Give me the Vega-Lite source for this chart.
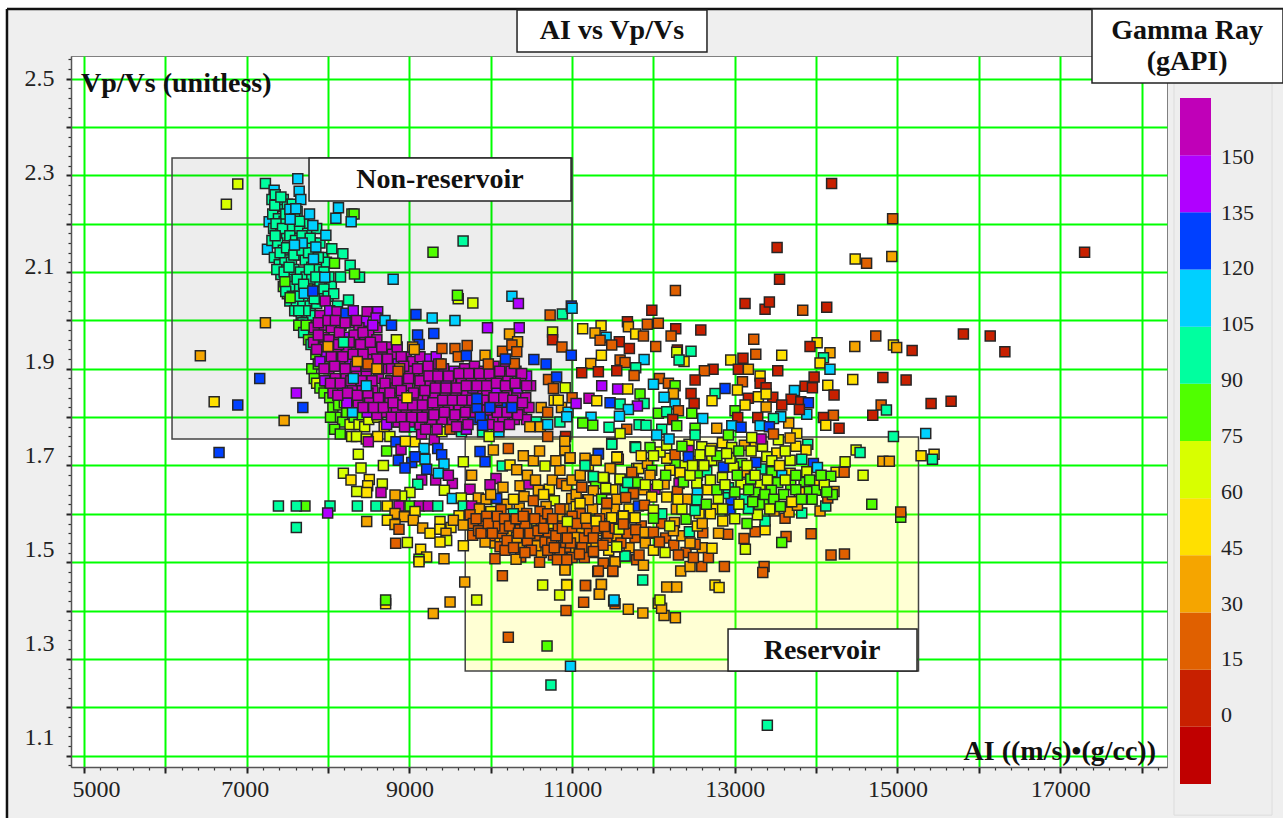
{"$schema":"https://vega.github.io/schema/vega-lite/v6.json","width":1096,"height":711,"autosize":{"type":"none"},"padding":{"left":71,"top":56,"right":116,"bottom":51},"background":"#efefef","view":{"fill":"white","stroke":"#808080"},"config":{"font":"Liberation Serif"},
"resolve":{"axis":{"x":"independent","y":"independent"}},
"layer":[
{"data":{"values":[{"part":"left margin"}]},"mark":{"type":"rect","fill":"white","clip":false},"encoding":{"x":{"datum":3000,"type":"quantitative","scale":{"domain":[4840,18313],"nice":false,"zero":false},"axis":null},"x2":{"datum":4053},"y":{"datum":0.8,"type":"quantitative","scale":{"domain":[1.0766,2.5467],"nice":false,"zero":false},"axis":null},"y2":{"datum":2.9}}},
{"data":{"values":[{"part":"top margin"}]},"mark":{"type":"rect","fill":"white","clip":false},"encoding":{"x":{"datum":4053,"type":"quantitative","scale":{"domain":[4840,18313],"nice":false,"zero":false},"axis":null},"x2":{"datum":20000},"y":{"datum":2.6437,"type":"quantitative","scale":{"domain":[1.0766,2.5467],"nice":false,"zero":false},"axis":null},"y2":{"datum":2.9}}},
{"data":{"values":[{"part":"frame left"}]},"mark":{"type":"rule","color":"#111111","strokeWidth":2.5,"clip":false},"encoding":{"x":{"datum":4053,"type":"quantitative","scale":{"domain":[4840,18313],"nice":false,"zero":false},"axis":null},"y":{"datum":0.85,"type":"quantitative","scale":{"domain":[1.0766,2.5467],"nice":false,"zero":false},"axis":null},"y2":{"datum":2.6437}}},
{"data":{"values":[{"part":"frame top"}]},"mark":{"type":"rule","color":"#111111","strokeWidth":2.5,"clip":false},"encoding":{"x":{"datum":4053,"type":"quantitative","scale":{"domain":[4840,18313],"nice":false,"zero":false},"axis":null},"x2":{"datum":20000},"y":{"datum":2.6437,"type":"quantitative","scale":{"domain":[1.0766,2.5467],"nice":false,"zero":false},"axis":null}}},
{"data":{"values":[{"x":19000}]},"mark":{"type":"tick","opacity":0},"encoding":{"x":{"field":"x","type":"quantitative","scale":{"domain":[4840,18313],"nice":false,"zero":false},"axis":{"orient":"bottom","title":null,"values":[5000,5200,5400,5600,5800,6000,6200,6400,6600,6800,7000,7200,7400,7600,7800,8000,8200,8400,8600,8800,9000,9200,9400,9600,9800,10000,10200,10400,10600,10800,11000,11200,11400,11600,11800,12000,12200,12400,12600,12800,13000,13200,13400,13600,13800,14000,14200,14400,14600,14800,15000,15200,15400,15600,15800,16000,16200,16400,16600,16800,17000,17200,17400,17600,17800,18000,18200],"labels":false,"grid":false,"domain":false,"tickSize":3,"tickColor":"#333333","tickWidth":1.2}},"y":{"datum":3,"type":"quantitative","scale":{"domain":[1.0766,2.5467],"nice":false,"zero":false},"axis":{"orient":"left","title":null,"values":[1.08,1.12,1.14,1.16,1.18,1.22,1.24,1.26,1.28,1.32,1.34,1.36,1.38,1.42,1.44,1.46,1.48,1.52,1.54,1.56,1.58,1.62,1.64,1.66,1.68,1.72,1.74,1.76,1.78,1.82,1.84,1.86,1.88,1.92,1.94,1.96,1.98,2.02,2.04,2.06,2.08,2.12,2.14,2.16,2.18,2.22,2.24,2.26,2.28,2.32,2.34,2.36,2.38,2.42,2.44,2.46,2.48,2.52,2.54],"labels":false,"grid":false,"domain":false,"tickSize":3,"tickColor":"#333333","tickWidth":1.2}}}},
{"data":{"values":[{"region":"Non-reservoir","x1":6082,"x2":11000,"y1":1.755,"y2":2.336}]},"mark":{"type":"rect","fill":"#000000","fillOpacity":0.07,"stroke":"#444444","strokeWidth":1.5},"encoding":{"x":{"field":"x1","type":"quantitative","scale":{"domain":[4840,18313],"nice":false,"zero":false},"axis":{"orient":"bottom","title":null,"values":[5000,6000,7000,8000,9000,10000,11000,12000,13000,14000,15000,16000,17000,18000],"gridColor":"#00ff00","gridWidth":2,"gridOpacity":1,"grid":true,"domainColor":"#555555","domainWidth":1.5,"tickColor":"#222222","tickWidth":2,"tickSize":6,"labelFontSize":24,"labelFont":"Liberation Serif","labelColor":"#222222","labelPadding":4,"labelOverlap":false,"labelFlush":false,"labelExpr":"datum.value % 2000 == 1000 ? format(datum.value,'d') : ''","labelOffset":{"expr":"datum.value == 5000 ? 12 : datum.value == 7000 ? -2 : 0"}}},"x2":{"field":"x2"},"y":{"field":"y1","type":"quantitative","scale":{"domain":[1.0766,2.5467],"nice":false,"zero":false},"axis":{"orient":"left","title":null,"values":[1.1,1.2,1.3,1.4,1.5,1.6,1.7,1.8,1.9,2.0,2.1,2.2,2.3,2.4,2.5],"gridColor":"#00ff00","gridWidth":2,"gridOpacity":1,"grid":true,"domainColor":"#555555","domainWidth":1.5,"tickColor":"#222222","tickWidth":2,"tickSize":5,"labelFontSize":24,"labelFont":"Liberation Serif","labelColor":"#222222","labelPadding":12,"labelOverlap":false,"labelExpr":"round(datum.value*10) % 2 == 1 ? format(datum.value,'.1f') : ''","labelOffset":{"expr":"(datum.value-2.5)*12.9"}}},"y2":{"field":"y2"}}},
{"data":{"values":[{"region":"Reservoir","x1":9686,"x2":15258,"y1":1.275,"y2":1.759}]},"mark":{"type":"rect","fill":"#ffff00","fillOpacity":0.17,"stroke":"#444444","strokeWidth":1.5},"encoding":{"x":{"field":"x1","type":"quantitative","scale":{"domain":[4840,18313],"nice":false,"zero":false},"axis":null},"x2":{"field":"x2"},"y":{"field":"y1","type":"quantitative","scale":{"domain":[1.0766,2.5467],"nice":false,"zero":false},"axis":null},"y2":{"field":"y2"}}},
{"data":{"values":[{"x1":18399,"x2":19604,"y1":0.977,"y2":2.491}]},"mark":{"type":"rect","fill":"#eeeeee","stroke":"#dddddd","clip":false},"encoding":{"x":{"field":"x1","type":"quantitative","scale":{"domain":[4840,18313],"nice":false,"zero":false},"axis":null},"x2":{"field":"x2"},"y":{"field":"y1","type":"quantitative","scale":{"domain":[1.0766,2.5467],"nice":false,"zero":false},"axis":null},"y2":{"field":"y2"}}},
{"data":{"values":[
{"x":7850,"y":1.93,"g":75},{"x":7800,"y":1.9,"g":75},{"x":7830,"y":1.88,"g":80},{"x":7880,"y":1.91,"g":80},{"x":7860,"y":1.87,"g":60},{"x":7900,"y":1.86,"g":80},{"x":7950,"y":1.85,"g":75},{"x":7980,"y":1.875,"g":85},{"x":8020,"y":1.84,"g":80},{"x":8060,"y":1.82,"g":80},{"x":8100,"y":1.8,"g":75},{"x":8030,"y":1.8,"g":80},{"x":8130,"y":1.825,"g":75},{"x":8180,"y":1.79,"g":80},{"x":8230,"y":1.81,"g":85},{"x":8270,"y":1.785,"g":70},{"x":8320,"y":1.8,"g":75},{"x":8380,"y":1.785,"g":60},{"x":8420,"y":1.805,"g":80},{"x":8450,"y":1.78,"g":70},{"x":8500,"y":1.795,"g":65},{"x":8540,"y":1.82,"g":60},{"x":8080,"y":1.775,"g":80},{"x":8150,"y":1.765,"g":75},{"x":8290,"y":1.76,"g":65},{"x":8200,"y":1.83,"g":75},{"x":8350,"y":1.76,"g":60},{"x":8470,"y":1.755,"g":65},{"x":8610,"y":1.8,"g":60},{"x":8690,"y":1.78,"g":55},{"x":8610,"y":1.76,"g":50},{"x":8760,"y":1.76,"g":60},
{"x":8495,"y":1.749,"g":155},{"x":8372,"y":1.723,"g":60},{"x":8720,"y":1.73,"g":75},{"x":8835,"y":1.749,"g":125},{"x":8897,"y":1.733,"g":155},{"x":9069,"y":1.749,"g":55},{"x":9180,"y":1.735,"g":105},{"x":9306,"y":1.753,"g":155},{"x":9348,"y":1.735,"g":125},{"x":9397,"y":1.722,"g":125},{"x":8864,"y":1.711,"g":125},{"x":9028,"y":1.706,"g":125},{"x":9069,"y":1.718,"g":125},{"x":9192,"y":1.713,"g":105},{"x":8946,"y":1.695,"g":125},{"x":9425,"y":1.703,"g":105},{"x":9212,"y":1.692,"g":125},{"x":8680,"y":1.7,"g":60},{"x":8405,"y":1.695,"g":60},{"x":8188,"y":1.684,"g":60},{"x":8282,"y":1.67,"g":50},{"x":8507,"y":1.671,"g":50},{"x":8487,"y":1.658,"g":55},{"x":8667,"y":1.662,"g":60},{"x":8352,"y":1.646,"g":60},{"x":8475,"y":1.644,"g":50},{"x":8651,"y":1.644,"g":155},{"x":9151,"y":1.67,"g":155},{"x":9323,"y":1.67,"g":155},{"x":9528,"y":1.663,"g":155},{"x":9356,"y":1.684,"g":105},{"x":9479,"y":1.68,"g":155},{"x":9102,"y":1.661,"g":95},{"x":9430,"y":1.649,"g":60},{"x":9007,"y":1.644,"g":60},{"x":8905,"y":1.637,"g":60},{"x":8823,"y":1.639,"g":30},{"x":9663,"y":1.708,"g":60},{"x":9765,"y":1.68,"g":40},{"x":9745,"y":1.651,"g":150},{"x":9528,"y":1.632,"g":105},{"x":9638,"y":1.633,"g":60},{"x":9847,"y":1.633,"g":35},{"x":10073,"y":1.632,"g":125},{"x":9942,"y":1.63,"g":35},{"x":8872,"y":1.616,"g":155},{"x":9007,"y":1.616,"g":75},{"x":9122,"y":1.616,"g":155},{"x":9233,"y":1.616,"g":155},{"x":9348,"y":1.616,"g":95},{"x":8589,"y":1.616,"g":95},{"x":8360,"y":1.616,"g":95},{"x":8024,"y":1.616,"g":95},{"x":7716,"y":1.616,"g":75},{"x":7995,"y":1.602,"g":145},{"x":9663,"y":1.616,"g":95},{"x":9765,"y":1.616,"g":155},{"x":8729,"y":1.616,"g":55},{"x":8823,"y":1.601,"g":30},{"x":8938,"y":1.594,"g":35},{"x":9069,"y":1.605,"g":55},{"x":8729,"y":1.587,"g":50},{"x":8475,"y":1.584,"g":30},{"x":8823,"y":1.578,"g":35},{"x":8872,"y":1.568,"g":25},{"x":9048,"y":1.587,"g":35},{"x":9163,"y":1.571,"g":30},{"x":9253,"y":1.56,"g":50},{"x":9376,"y":1.584,"g":50},{"x":9376,"y":1.568,"g":50},{"x":9511,"y":1.572,"g":50},{"x":9610,"y":1.596,"g":50},{"x":9540,"y":1.587,"g":35},{"x":9663,"y":1.577,"g":35},{"x":9450,"y":1.56,"g":40},{"x":9458,"y":1.545,"g":60},{"x":9376,"y":1.542,"g":50},{"x":8975,"y":1.541,"g":60},{"x":8831,"y":1.539,"g":15},{"x":9138,"y":1.527,"g":50},{"x":9212,"y":1.511,"g":50},{"x":9118,"y":1.506,"g":75},{"x":9118,"y":1.501,"g":50},{"x":9425,"y":1.507,"g":30},{"x":9663,"y":1.534,"g":50},{"x":9680,"y":1.459,"g":30},
{"x":9868,"y":1.729,"g":125},{"x":9930,"y":1.708,"g":125},{"x":10032,"y":1.732,"g":35},{"x":10216,"y":1.735,"g":15},{"x":10142,"y":1.699,"g":95},{"x":10237,"y":1.701,"g":50},{"x":10319,"y":1.691,"g":35},{"x":10524,"y":1.71,"g":30},{"x":10667,"y":1.699,"g":60},{"x":10913,"y":1.731,"g":35},{"x":10974,"y":1.715,"g":35},{"x":11159,"y":1.715,"g":35},{"x":11167,"y":1.699,"g":95},{"x":11294,"y":1.711,"g":35},{"x":11323,"y":1.725,"g":125},{"x":11474,"y":1.694,"g":35},{"x":11556,"y":1.718,"g":50},{"x":11568,"y":1.713,"g":15},{"x":11487,"y":1.746,"g":95},{"x":11773,"y":1.739,"g":95},{"x":11794,"y":1.694,"g":50},{"x":11753,"y":1.685,"g":15},{"x":10065,"y":1.673,"g":150},{"x":9991,"y":1.66,"g":150},{"x":10360,"y":1.658,"g":30},{"x":10470,"y":1.662,"g":155},{"x":10585,"y":1.649,"g":30},{"x":10720,"y":1.651,"g":50},{"x":10757,"y":1.67,"g":30},{"x":10872,"y":1.663,"g":15},{"x":10933,"y":1.658,"g":35},{"x":11118,"y":1.655,"g":15},{"x":11261,"y":1.675,"g":95},{"x":11396,"y":1.675,"g":60},{"x":11413,"y":1.651,"g":60},{"x":11290,"y":1.663,"g":75},{"x":11590,"y":1.671,"g":60},{"x":11683,"y":1.665,"g":95},{"x":11785,"y":1.665,"g":95},{"x":11753,"y":1.641,"g":15},{"x":11650,"y":1.648,"g":95},{"x":11261,"y":1.648,"g":35},{"x":10409,"y":1.636,"g":35},{"x":10524,"y":1.627,"g":15},{"x":10782,"y":1.627,"g":60},{"x":10995,"y":1.632,"g":35},{"x":11192,"y":1.629,"g":35},{"x":11363,"y":1.63,"g":75},{"x":11425,"y":1.622,"g":15},
{"x":10200,"y":1.62,"g":35},{"x":10350,"y":1.612,"g":30},{"x":10680,"y":1.615,"g":35},{"x":10900,"y":1.61,"g":30},{"x":11050,"y":1.615,"g":50},{"x":11250,"y":1.61,"g":30},{"x":11520,"y":1.612,"g":30},{"x":11700,"y":1.61,"g":50},{"x":10000,"y":1.605,"g":50},{"x":9860,"y":1.61,"g":35},{"x":10450,"y":1.588,"g":50},{"x":10650,"y":1.6,"g":30},{"x":10850,"y":1.59,"g":35},{"x":11080,"y":1.595,"g":35},{"x":11220,"y":1.585,"g":30},{"x":11420,"y":1.6,"g":30},{"x":9960,"y":1.57,"g":50},{"x":10250,"y":1.565,"g":35},{"x":10500,"y":1.57,"g":50},{"x":10780,"y":1.57,"g":30},{"x":11100,"y":1.57,"g":40},{"x":11340,"y":1.565,"g":30},{"x":11550,"y":1.555,"g":30},{"x":10050,"y":1.54,"g":35},{"x":10380,"y":1.53,"g":35},{"x":10620,"y":1.52,"g":30},{"x":10990,"y":1.525,"g":35},{"x":11200,"y":1.53,"g":30},{"x":11450,"y":1.525,"g":50},{"x":11700,"y":1.53,"g":30},{"x":11900,"y":1.54,"g":35},{"x":12000,"y":1.525,"g":50},
{"x":10126,"y":1.609,"g":15},{"x":10278,"y":1.6,"g":95},{"x":9745,"y":1.598,"g":15},{"x":9900,"y":1.584,"g":15},{"x":10114,"y":1.587,"g":15},{"x":10278,"y":1.584,"g":15},{"x":10442,"y":1.601,"g":15},{"x":10606,"y":1.605,"g":15},{"x":10565,"y":1.582,"g":55},{"x":10729,"y":1.58,"g":55},{"x":10851,"y":1.61,"g":15},{"x":10946,"y":1.584,"g":60},{"x":11167,"y":1.591,"g":30},{"x":11290,"y":1.584,"g":50},{"x":11487,"y":1.592,"g":50},{"x":11630,"y":1.596,"g":50},{"x":11773,"y":1.592,"g":60},{"x":11396,"y":1.574,"g":15},{"x":11638,"y":1.579,"g":15},{"x":9786,"y":1.58,"g":15},{"x":9778,"y":1.556,"g":15},{"x":9991,"y":1.555,"g":15},{"x":10134,"y":1.56,"g":25},{"x":10360,"y":1.567,"g":15},{"x":10565,"y":1.556,"g":15},{"x":10708,"y":1.556,"g":15},{"x":10892,"y":1.551,"g":15},{"x":10995,"y":1.567,"g":15},{"x":11036,"y":1.551,"g":30},{"x":11294,"y":1.539,"g":30},{"x":11425,"y":1.551,"g":15},{"x":11581,"y":1.568,"g":55},{"x":11548,"y":1.532,"g":60},{"x":11773,"y":1.551,"g":15},{"x":10319,"y":1.551,"g":30},{"x":9930,"y":1.542,"g":30},{"x":10114,"y":1.532,"g":15},{"x":10175,"y":1.525,"g":15},{"x":10474,"y":1.524,"g":15},{"x":10368,"y":1.511,"g":15},{"x":10556,"y":1.534,"g":30},{"x":10667,"y":1.542,"g":15},{"x":10921,"y":1.531,"g":15},{"x":11089,"y":1.516,"g":15},{"x":11261,"y":1.52,"g":15},{"x":10933,"y":1.506,"g":15},{"x":10770,"y":1.515,"g":15},{"x":10052,"y":1.507,"g":15},{"x":10311,"y":1.506,"g":30},{"x":11650,"y":1.513,"g":95},{"x":11384,"y":1.498,"g":15},{"x":11528,"y":1.501,"g":30},{"x":11315,"y":1.481,"g":15},{"x":11499,"y":1.481,"g":15},{"x":10913,"y":1.485,"g":30},{"x":11794,"y":1.505,"g":15},{"x":10143,"y":1.472,"g":25},{"x":10638,"y":1.453,"g":60},{"x":10933,"y":1.454,"g":50},{"x":11167,"y":1.452,"g":15},{"x":11360,"y":1.454,"g":30},{"x":11335,"y":1.434,"g":25},{"x":10847,"y":1.432,"g":60},{"x":11142,"y":1.417,"g":15},{"x":11528,"y":1.414,"g":15},{"x":11511,"y":1.42,"g":105},{"x":11691,"y":1.403,"g":40},{"x":10925,"y":1.4,"g":25},{"x":9827,"y":1.422,"g":60},{"x":9500,"y":1.418,"g":30},{"x":9294,"y":1.394,"g":35},{"x":8708,"y":1.414,"g":50},{"x":8708,"y":1.422,"g":75},{"x":10216,"y":1.345,"g":25},{"x":10692,"y":1.327,"g":75},{"x":10740,"y":1.246,"g":95},{"x":10980,"y":1.285,"g":105},{"x":13400,"y":1.163,"g":100},{"x":12270,"y":1.385,"g":30},{"x":12130,"y":1.39,"g":40},{"x":12060,"y":1.415,"g":50},{"x":11870,"y":1.395,"g":35},{"x":12100,"y":1.405,"g":30},
{"x":10150,"y":1.57,"g":15},{"x":10420,"y":1.575,"g":15},{"x":10620,"y":1.585,"g":15},{"x":10830,"y":1.575,"g":15},{"x":10200,"y":1.545,"g":15},{"x":10450,"y":1.545,"g":15},{"x":10750,"y":1.54,"g":15},{"x":10600,"y":1.5,"g":15},{"x":10980,"y":1.54,"g":15},{"x":11150,"y":1.55,"g":15},{"x":11210,"y":1.565,"g":15},{"x":9850,"y":1.565,"g":15},{"x":10050,"y":1.575,"g":15},{"x":10700,"y":1.6,"g":15},{"x":11100,"y":1.6,"g":15},{"x":11000,"y":1.595,"g":15},{"x":9950,"y":1.595,"g":15},{"x":10500,"y":1.525,"g":15},{"x":10850,"y":1.52,"g":15},{"x":11300,"y":1.57,"g":15},{"x":11480,"y":1.575,"g":15},{"x":11600,"y":1.54,"g":15},{"x":11850,"y":1.575,"g":15},{"x":11950,"y":1.56,"g":15},
{"x":9820,"y":1.59,"g":15},{"x":9880,"y":1.56,"g":15},{"x":9970,"y":1.58,"g":15},{"x":10020,"y":1.56,"g":15},{"x":10080,"y":1.595,"g":15},{"x":10170,"y":1.59,"g":15},{"x":10230,"y":1.575,"g":15},{"x":10310,"y":1.59,"g":15},{"x":10340,"y":1.56,"g":15},{"x":10400,"y":1.595,"g":15},{"x":10480,"y":1.56,"g":15},{"x":10540,"y":1.59,"g":15},{"x":10580,"y":1.565,"g":15},{"x":10650,"y":1.57,"g":15},{"x":10760,"y":1.59,"g":15},{"x":10800,"y":1.555,"g":15},{"x":10880,"y":1.57,"g":15},{"x":10940,"y":1.55,"g":15},{"x":11060,"y":1.58,"g":15},{"x":11120,"y":1.53,"g":15},{"x":11180,"y":1.58,"g":15},{"x":11260,"y":1.55,"g":15},{"x":11340,"y":1.59,"g":15},{"x":11380,"y":1.535,"g":15},{"x":11440,"y":1.56,"g":15},{"x":11530,"y":1.57,"g":15},{"x":10280,"y":1.53,"g":15},{"x":10420,"y":1.52,"g":15},{"x":10700,"y":1.525,"g":15},{"x":10780,"y":1.53,"g":15},{"x":10820,"y":1.505,"g":15},{"x":11000,"y":1.51,"g":15},{"x":11150,"y":1.51,"g":15},{"x":11680,"y":1.56,"g":15},{"x":12150,"y":1.55,"g":15},{"x":12250,"y":1.535,"g":15},{"x":12400,"y":1.52,"g":15},{"x":12600,"y":1.53,"g":30},{"x":12100,"y":1.58,"g":15},{"x":12350,"y":1.555,"g":30},
{"x":10000,"y":1.64,"g":35},{"x":10150,"y":1.655,"g":30},{"x":10280,"y":1.63,"g":50},{"x":10450,"y":1.68,"g":30},{"x":10550,"y":1.67,"g":35},{"x":10650,"y":1.64,"g":50},{"x":10850,"y":1.69,"g":30},{"x":11000,"y":1.67,"g":40},{"x":11050,"y":1.64,"g":30},{"x":10800,"y":1.71,"g":35},{"x":10400,"y":1.72,"g":30},{"x":10600,"y":1.73,"g":35},{"x":11100,"y":1.68,"g":30},{"x":11200,"y":1.7,"g":50},{"x":11500,"y":1.65,"g":55},{"x":11550,"y":1.63,"g":35},{"x":11880,"y":1.65,"g":30},
{"x":11487,"y":1.744,"g":95},{"x":11782,"y":1.737,"g":95},{"x":11323,"y":1.724,"g":125},{"x":10913,"y":1.732,"g":30},{"x":10975,"y":1.716,"g":30},{"x":11549,"y":1.717,"g":55},{"x":11159,"y":1.7,"g":95},{"x":11295,"y":1.711,"g":30},{"x":11467,"y":1.694,"g":30},{"x":11819,"y":1.694,"g":50},{"x":11926,"y":1.704,"g":30},{"x":11979,"y":1.69,"g":75},{"x":11733,"y":1.686,"g":20},{"x":11958,"y":1.68,"g":30},{"x":11262,"y":1.677,"g":90},{"x":11385,"y":1.675,"g":60},{"x":11413,"y":1.653,"g":60},{"x":11590,"y":1.672,"g":60},{"x":11684,"y":1.665,"g":95},{"x":11807,"y":1.665,"g":75},{"x":12020,"y":1.651,"g":150},{"x":12131,"y":1.662,"g":30},{"x":12315,"y":1.663,"g":150},{"x":12295,"y":1.646,"g":20},{"x":11754,"y":1.642,"g":20},{"x":11659,"y":1.634,"g":15},{"x":11979,"y":1.635,"g":55},{"x":12163,"y":1.635,"g":50},{"x":11118,"y":1.655,"g":15},{"x":11200,"y":1.629,"g":30},{"x":11426,"y":1.622,"g":15},{"x":11098,"y":1.622,"g":50},{"x":11815,"y":1.616,"g":125},{"x":11889,"y":1.618,"g":15},{"x":12102,"y":1.6,"g":95},{"x":12282,"y":1.61,"g":30},{"x":12000,"y":1.608,"g":60},{"x":12000,"y":1.591,"g":75},{"x":11774,"y":1.592,"g":55},{"x":11630,"y":1.595,"g":50},{"x":11487,"y":1.592,"g":50},{"x":11295,"y":1.585,"g":50},{"x":11167,"y":1.591,"g":30},{"x":10942,"y":1.584,"g":60},{"x":11397,"y":1.574,"g":15},{"x":11577,"y":1.568,"g":60},{"x":11630,"y":1.579,"g":15},{"x":11782,"y":1.567,"g":15},{"x":11897,"y":1.562,"g":30},{"x":12000,"y":1.562,"g":15},{"x":12258,"y":1.582,"g":30},{"x":12245,"y":1.565,"g":30},{"x":12401,"y":1.589,"g":75},{"x":12442,"y":1.563,"g":95},{"x":12606,"y":1.561,"g":15},{"x":12540,"y":1.575,"g":50},{"x":12745,"y":1.61,"g":50},{"x":12852,"y":1.585,"g":50},{"x":12561,"y":1.601,"g":50},{"x":12512,"y":1.607,"g":95},{"x":12913,"y":1.558,"g":15},{"x":13372,"y":1.567,"g":55},{"x":13250,"y":1.563,"g":15},{"x":13114,"y":1.549,"g":25},{"x":13630,"y":1.553,"g":15},{"x":13577,"y":1.541,"g":75},{"x":13938,"y":1.559,"g":15},{"x":13130,"y":1.527,"g":60},{"x":13372,"y":1.585,"g":95},{"x":13618,"y":1.591,"g":15},{"x":13278,"y":1.598,"g":60},{"x":13483,"y":1.606,"g":30},{"x":13667,"y":1.604,"g":30},{"x":13823,"y":1.602,"g":95},{"x":13770,"y":1.618,"g":30},{"x":14048,"y":1.606,"g":30},{"x":14118,"y":1.616,"g":95},{"x":14143,"y":1.633,"g":15},{"x":14220,"y":1.646,"g":30},{"x":14684,"y":1.62,"g":75},{"x":14577,"y":1.68,"g":60},{"x":14356,"y":1.708,"g":60},{"x":14245,"y":1.686,"g":55},{"x":14344,"y":1.686,"g":15},{"x":14180,"y":1.678,"g":75},{"x":14491,"y":1.732,"g":60},{"x":14540,"y":1.727,"g":95},{"x":14820,"y":1.709,"g":30},{"x":14900,"y":1.709,"g":30},{"x":15040,"y":1.593,"g":75},{"x":15040,"y":1.604,"g":15},{"x":14183,"y":1.515,"g":15},{"x":14348,"y":1.517,"g":15},{"x":13360,"y":1.491,"g":15},{"x":13344,"y":1.479,"g":15},{"x":12872,"y":1.491,"g":15},{"x":12335,"y":1.482,"g":30},{"x":12450,"y":1.491,"g":30},{"x":12594,"y":1.491,"g":15},{"x":12676,"y":1.51,"g":15},{"x":12491,"y":1.51,"g":15},{"x":12307,"y":1.515,"g":15},{"x":12720,"y":1.529,"g":50},{"x":12512,"y":1.537,"g":15},{"x":12143,"y":1.52,"g":60},{"x":12073,"y":1.542,"g":15},{"x":11877,"y":1.494,"g":30},{"x":11528,"y":1.501,"g":30},{"x":11385,"y":1.498,"g":15},{"x":11323,"y":1.482,"g":15},{"x":11500,"y":1.482,"g":15},{"x":11823,"y":1.515,"g":15},{"x":11651,"y":1.513,"g":95},{"x":11262,"y":1.522,"g":15},{"x":11090,"y":1.517,"g":15},{"x":10934,"y":1.505,"g":15},{"x":10913,"y":1.484,"g":30},{"x":11549,"y":1.532,"g":60},{"x":11868,"y":1.463,"g":95},{"x":12163,"y":1.449,"g":30},{"x":12286,"y":1.449,"g":30},{"x":12757,"y":1.453,"g":50},{"x":12807,"y":1.448,"g":50},{"x":11360,"y":1.454,"g":30},{"x":11336,"y":1.434,"g":30},{"x":11163,"y":1.452,"g":15},{"x":10934,"y":1.453,"g":50},{"x":11516,"y":1.422,"g":105},{"x":12080,"y":1.422,"g":60},
{"x":12437,"y":1.744,"g":60},{"x":12594,"y":1.739,"g":60},{"x":12717,"y":1.735,"g":50},{"x":12848,"y":1.747,"g":55},{"x":12963,"y":1.737,"g":60},{"x":13118,"y":1.742,"g":30},{"x":13250,"y":1.74,"g":50},{"x":13536,"y":1.753,"g":60},{"x":13897,"y":1.744,"g":95},{"x":13876,"y":1.732,"g":50},{"x":13516,"y":1.726,"g":50},{"x":13393,"y":1.718,"g":60},{"x":13455,"y":1.71,"g":60},{"x":13680,"y":1.711,"g":60},{"x":13823,"y":1.713,"g":90},{"x":13966,"y":1.704,"g":125},{"x":14016,"y":1.696,"g":105},{"x":13885,"y":1.687,"g":60},{"x":13680,"y":1.684,"g":50},{"x":13577,"y":1.68,"g":105},{"x":13455,"y":1.687,"g":75},{"x":13323,"y":1.693,"g":95},{"x":13258,"y":1.706,"g":125},{"x":13085,"y":1.704,"g":75},{"x":12983,"y":1.697,"g":60},{"x":12860,"y":1.697,"g":125},{"x":12717,"y":1.711,"g":60},{"x":12553,"y":1.709,"g":50},{"x":12376,"y":1.7,"g":60},{"x":12266,"y":1.706,"g":75},{"x":12163,"y":1.715,"g":50},{"x":12430,"y":1.731,"g":150},{"x":12430,"y":1.718,"g":125},{"x":12655,"y":1.687,"g":100},{"x":12540,"y":1.68,"g":75},{"x":12848,"y":1.675,"g":60},{"x":13118,"y":1.686,"g":30},{"x":13077,"y":1.662,"g":60},{"x":13311,"y":1.66,"g":60},{"x":13196,"y":1.672,"g":75},{"x":13528,"y":1.665,"g":75},{"x":13688,"y":1.66,"g":75},{"x":13852,"y":1.665,"g":75},{"x":13979,"y":1.668,"g":50},{"x":13995,"y":1.649,"g":75},{"x":13885,"y":1.646,"g":75},{"x":13794,"y":1.644,"g":50},{"x":13450,"y":1.649,"g":75},{"x":13258,"y":1.644,"g":75},{"x":12954,"y":1.629,"g":125},{"x":12942,"y":1.608,"g":125},{"x":13167,"y":1.611,"g":100},{"x":13118,"y":1.63,"g":90},{"x":13352,"y":1.629,"g":75},{"x":12667,"y":1.65,"g":50},{"x":12540,"y":1.644,"g":105},{"x":12532,"y":1.629,"g":100},{"x":12872,"y":1.642,"g":95},{"x":12921,"y":1.654,"g":95},{"x":12798,"y":1.632,"g":60},{"x":12409,"y":1.63,"g":30},{"x":12327,"y":1.685,"g":50},{"x":12532,"y":1.664,"g":60},{"x":12368,"y":1.666,"g":75},{"x":12081,"y":1.728,"g":60},{"x":11958,"y":1.737,"g":75},{"x":12163,"y":1.742,"g":60},{"x":12266,"y":1.722,"g":15},{"x":12573,"y":1.722,"g":60},{"x":12942,"y":1.715,"g":60},
{"x":12700,"y":1.67,"g":60},{"x":12620,"y":1.7,"g":60},{"x":12780,"y":1.72,"g":75},{"x":13000,"y":1.645,"g":75},{"x":13150,"y":1.7,"g":60},{"x":13400,"y":1.67,"g":60},{"x":13600,"y":1.64,"g":75},{"x":13750,"y":1.68,"g":75},{"x":13550,"y":1.7,"g":50},{"x":13200,"y":1.73,"g":60},{"x":12450,"y":1.68,"g":60},{"x":12200,"y":1.69,"g":55},{"x":12050,"y":1.66,"g":60},{"x":11850,"y":1.72,"g":50},{"x":13950,"y":1.63,"g":75},{"x":14100,"y":1.66,"g":60},{"x":14200,"y":1.64,"g":75},{"x":13700,"y":1.625,"g":50},{"x":13300,"y":1.62,"g":75},{"x":12700,"y":1.6,"g":50},{"x":12600,"y":1.58,"g":30},{"x":12350,"y":1.61,"g":60},{"x":12200,"y":1.575,"g":60},{"x":12800,"y":1.56,"g":30},{"x":12450,"y":1.54,"g":30},
{"x":12780,"y":1.65,"g":75},{"x":12880,"y":1.66,"g":60},{"x":13030,"y":1.68,"g":75},{"x":13170,"y":1.65,"g":75},{"x":13250,"y":1.68,"g":60},{"x":13370,"y":1.64,"g":75},{"x":13480,"y":1.63,"g":75},{"x":13620,"y":1.67,"g":60},{"x":13750,"y":1.65,"g":75},{"x":13820,"y":1.63,"g":75},{"x":13920,"y":1.67,"g":75},{"x":14060,"y":1.68,"g":75},{"x":14130,"y":1.645,"g":75},{"x":13050,"y":1.62,"g":60},{"x":13220,"y":1.625,"g":75},{"x":13430,"y":1.61,"g":60},{"x":13560,"y":1.615,"g":75},{"x":12700,"y":1.73,"g":60},{"x":12900,"y":1.725,"g":60},{"x":13050,"y":1.73,"g":75},{"x":13340,"y":1.74,"g":60},{"x":13620,"y":1.73,"g":60},{"x":13750,"y":1.74,"g":50},{"x":12350,"y":1.74,"g":75},{"x":12480,"y":1.7,"g":60},{"x":12850,"y":1.61,"g":60},{"x":12650,"y":1.62,"g":75},{"x":13000,"y":1.59,"g":60},{"x":13150,"y":1.58,"g":75},{"x":12300,"y":1.63,"g":55},{"x":12150,"y":1.68,"g":75},{"x":12000,"y":1.72,"g":60},{"x":11900,"y":1.66,"g":60},
{"x":7230,"y":2.283,"g":95},{"x":7337,"y":2.269,"g":110},{"x":7370,"y":2.243,"g":95},{"x":7276,"y":2.204,"g":110},{"x":7255,"y":2.147,"g":110},{"x":7310,"y":2.25,"g":95},{"x":7350,"y":2.26,"g":95},{"x":7400,"y":2.235,"g":95},{"x":7450,"y":2.25,"g":95},{"x":7500,"y":2.24,"g":95},{"x":7320,"y":2.22,"g":95},{"x":7390,"y":2.21,"g":100},{"x":7460,"y":2.205,"g":95},{"x":7560,"y":2.24,"g":100},{"x":7620,"y":2.225,"g":95},{"x":7700,"y":2.2,"g":100},{"x":7330,"y":2.19,"g":95},{"x":7420,"y":2.18,"g":95},{"x":7490,"y":2.175,"g":95},{"x":7560,"y":2.19,"g":95},{"x":7650,"y":2.185,"g":95},{"x":7750,"y":2.18,"g":95},{"x":7860,"y":2.19,"g":95},{"x":7310,"y":2.165,"g":95},{"x":7380,"y":2.16,"g":95},{"x":7450,"y":2.145,"g":95},{"x":7540,"y":2.15,"g":95},{"x":7620,"y":2.17,"g":95},{"x":7720,"y":2.155,"g":95},{"x":7800,"y":2.16,"g":95},{"x":7900,"y":2.16,"g":95},{"x":7930,"y":2.13,"g":95},{"x":7340,"y":2.13,"g":95},{"x":7400,"y":2.115,"g":95},{"x":7470,"y":2.125,"g":95},{"x":7550,"y":2.12,"g":95},{"x":7640,"y":2.135,"g":95},{"x":7720,"y":2.125,"g":95},{"x":7800,"y":2.11,"g":95},{"x":7880,"y":2.105,"g":95},{"x":7980,"y":2.12,"g":95},{"x":7420,"y":2.095,"g":95},{"x":7500,"y":2.09,"g":95},{"x":7580,"y":2.105,"g":95},{"x":7660,"y":2.1,"g":95},{"x":7730,"y":2.09,"g":95},{"x":7800,"y":2.085,"g":95},{"x":7900,"y":2.08,"g":95},{"x":8010,"y":2.09,"g":95},{"x":8040,"y":2.07,"g":95},{"x":7450,"y":2.07,"g":75},{"x":7500,"y":2.055,"g":75},{"x":7570,"y":2.07,"g":95},{"x":7650,"y":2.065,"g":95},{"x":7750,"y":2.065,"g":85},{"x":7850,"y":2.06,"g":95},{"x":7950,"y":2.065,"g":95},{"x":7530,"y":2.04,"g":95},{"x":7610,"y":2.035,"g":95},{"x":7690,"y":2.04,"g":95},{"x":7780,"y":2.03,"g":95},{"x":7860,"y":2.035,"g":95},{"x":7590,"y":2.02,"g":95},{"x":7670,"y":2.01,"g":95},{"x":7740,"y":2.0,"g":95},{"x":7800,"y":2.01,"g":95},
{"x":7345,"y":2.238,"g":95},{"x":7420,"y":2.255,"g":95},{"x":7480,"y":2.22,"g":95},{"x":7530,"y":2.23,"g":110},{"x":7590,"y":2.21,"g":95},{"x":7650,"y":2.205,"g":95},{"x":7360,"y":2.2,"g":95},{"x":7440,"y":2.19,"g":95},{"x":7530,"y":2.175,"g":95},{"x":7600,"y":2.165,"g":95},{"x":7680,"y":2.175,"g":95},{"x":7780,"y":2.17,"g":95},{"x":7830,"y":2.14,"g":95},{"x":7350,"y":2.175,"g":95},{"x":7410,"y":2.14,"g":95},{"x":7490,"y":2.15,"g":95},{"x":7580,"y":2.135,"g":95},{"x":7680,"y":2.145,"g":95},{"x":7760,"y":2.14,"g":95},{"x":7880,"y":2.13,"g":95},{"x":7950,"y":2.1,"g":95},{"x":7370,"y":2.105,"g":95},{"x":7460,"y":2.1,"g":95},{"x":7520,"y":2.11,"g":95},{"x":7620,"y":2.085,"g":95},{"x":7700,"y":2.075,"g":95},{"x":7770,"y":2.105,"g":95},{"x":7850,"y":2.09,"g":95},{"x":7930,"y":2.045,"g":95},{"x":8000,"y":2.05,"g":95},{"x":7470,"y":2.08,"g":75},{"x":7480,"y":2.06,"g":90},{"x":7560,"y":2.05,"g":95},{"x":7640,"y":2.05,"g":95},{"x":7720,"y":2.02,"g":95},{"x":7640,"y":2.02,"g":95},{"x":7690,"y":1.995,"g":95},{"x":7770,"y":1.985,"g":95},{"x":7830,"y":2.045,"g":95},{"x":7640,"y":1.99,"g":75},{"x":7700,"y":1.975,"g":95},{"x":7760,"y":1.96,"g":85},{"x":7790,"y":1.95,"g":95},{"x":8070,"y":2.055,"g":95},{"x":7900,"y":2.0,"g":95},
{"x":7628,"y":2.293,"g":110},{"x":7645,"y":2.267,"g":110},{"x":7665,"y":2.25,"g":110},{"x":7604,"y":2.231,"g":110},{"x":7772,"y":2.22,"g":110},{"x":7534,"y":2.209,"g":110},{"x":8128,"y":2.233,"g":110},{"x":8293,"y":2.22,"g":75},{"x":8320,"y":2.22,"g":75},{"x":8096,"y":2.211,"g":110},{"x":8284,"y":2.204,"g":110},{"x":7813,"y":2.196,"g":110},{"x":7973,"y":2.176,"g":110},{"x":7850,"y":2.152,"g":110},{"x":7682,"y":2.16,"g":110},{"x":7587,"y":2.156,"g":110},{"x":7821,"y":2.127,"g":110},{"x":8046,"y":2.148,"g":95},{"x":8182,"y":2.138,"g":95},{"x":8079,"y":2.118,"g":75},{"x":8272,"y":2.114,"g":95},{"x":8387,"y":2.089,"g":95},{"x":8325,"y":2.096,"g":75},{"x":7960,"y":2.089,"g":110},{"x":8153,"y":2.09,"g":95},{"x":7706,"y":2.056,"g":110},{"x":7813,"y":2.061,"g":125},{"x":7534,"y":2.047,"g":75},{"x":7965,"y":2.04,"g":155},{"x":8252,"y":2.042,"g":95},{"x":8116,"y":2.03,"g":95},{"x":7731,"y":1.99,"g":75},
{"x":8300,"y":1.81,"g":110},{"x":8800,"y":1.79,"g":110},{"x":8960,"y":1.78,"g":105},{"x":9060,"y":1.78,"g":95},{"x":9200,"y":1.8,"g":90},{"x":9400,"y":1.77,"g":60},{"x":9640,"y":1.77,"g":95},{"x":8950,"y":1.75,"g":55},{"x":9150,"y":1.765,"g":155},{"x":9700,"y":1.775,"g":145},{"x":9900,"y":1.77,"g":95},{"x":9980,"y":1.76,"g":60},{"x":10100,"y":1.77,"g":105},{"x":9500,"y":1.775,"g":20},
{"x":7900,"y":2.01,"g":155},{"x":7950,"y":1.99,"g":155},{"x":8020,"y":2.02,"g":145},{"x":8110,"y":2.018,"g":155},{"x":8220,"y":2.015,"g":125},{"x":8310,"y":2.02,"g":145},{"x":8480,"y":2.018,"g":155},{"x":8610,"y":2.018,"g":145},{"x":8590,"y":2.005,"g":145},{"x":8440,"y":1.998,"g":145},{"x":8600,"y":1.985,"g":155},{"x":8700,"y":2.0,"g":105},{"x":8780,"y":1.99,"g":125},{"x":7830,"y":1.985,"g":155},{"x":7950,"y":1.965,"g":155},{"x":8040,"y":1.985,"g":155},{"x":8160,"y":1.99,"g":155},{"x":8280,"y":1.995,"g":155},{"x":8380,"y":1.985,"g":155},{"x":8500,"y":1.975,"g":155},{"x":7820,"y":1.955,"g":155},{"x":7960,"y":1.945,"g":155},{"x":8080,"y":1.96,"g":155},{"x":8200,"y":1.965,"g":145},{"x":8320,"y":1.97,"g":155},{"x":8450,"y":1.955,"g":155},{"x":8600,"y":1.96,"g":155},{"x":8720,"y":1.945,"g":155},{"x":7980,"y":1.925,"g":145},{"x":8100,"y":1.935,"g":155},{"x":8230,"y":1.94,"g":155},{"x":8350,"y":1.945,"g":155},{"x":8480,"y":1.93,"g":155},{"x":8660,"y":1.925,"g":155},{"x":8790,"y":1.93,"g":155},{"x":8960,"y":1.925,"g":155},{"x":7900,"y":1.915,"g":145},{"x":8010,"y":1.9,"g":155},{"x":8150,"y":1.91,"g":155},{"x":8270,"y":1.915,"g":145},{"x":8400,"y":1.92,"g":155},{"x":8550,"y":1.905,"g":155},{"x":8700,"y":1.9,"g":155},{"x":8860,"y":1.91,"g":145},{"x":9040,"y":1.915,"g":155},{"x":9130,"y":1.925,"g":155},{"x":9250,"y":1.92,"g":145},{"x":9330,"y":1.925,"g":145},{"x":7960,"y":1.875,"g":145},{"x":8090,"y":1.88,"g":155},{"x":8220,"y":1.885,"g":155},{"x":8350,"y":1.89,"g":155},{"x":8470,"y":1.885,"g":155},{"x":8620,"y":1.88,"g":155},{"x":8770,"y":1.875,"g":155},{"x":8920,"y":1.89,"g":155},{"x":9060,"y":1.885,"g":155},{"x":9180,"y":1.895,"g":155},{"x":9300,"y":1.89,"g":155},{"x":9420,"y":1.9,"g":155},{"x":9550,"y":1.895,"g":145},{"x":9680,"y":1.9,"g":155},{"x":9800,"y":1.905,"g":155},{"x":9920,"y":1.895,"g":155},{"x":10040,"y":1.905,"g":155},{"x":10180,"y":1.905,"g":155},{"x":10310,"y":1.895,"g":145},{"x":10440,"y":1.885,"g":145},{"x":8060,"y":1.85,"g":155},{"x":8180,"y":1.855,"g":145},{"x":8300,"y":1.86,"g":155},{"x":8420,"y":1.86,"g":155},{"x":8550,"y":1.855,"g":155},{"x":8690,"y":1.85,"g":155},{"x":8830,"y":1.86,"g":155},{"x":8980,"y":1.865,"g":155},{"x":9120,"y":1.86,"g":155},{"x":9250,"y":1.87,"g":155},{"x":9380,"y":1.875,"g":155},{"x":9510,"y":1.87,"g":155},{"x":9640,"y":1.875,"g":155},{"x":9760,"y":1.88,"g":155},{"x":9880,"y":1.87,"g":155},{"x":10000,"y":1.875,"g":155},{"x":10120,"y":1.88,"g":155},{"x":10240,"y":1.87,"g":155},{"x":10370,"y":1.875,"g":155},{"x":10490,"y":1.865,"g":155},{"x":8240,"y":1.835,"g":155},{"x":8370,"y":1.83,"g":155},{"x":8510,"y":1.835,"g":155},{"x":8640,"y":1.825,"g":155},{"x":8760,"y":1.835,"g":155},{"x":8900,"y":1.84,"g":155},{"x":9030,"y":1.835,"g":155},{"x":9170,"y":1.84,"g":155},{"x":9310,"y":1.845,"g":155},{"x":9440,"y":1.85,"g":155},{"x":9570,"y":1.845,"g":155},{"x":9700,"y":1.85,"g":155},{"x":9830,"y":1.845,"g":155},{"x":9950,"y":1.85,"g":155},{"x":10070,"y":1.855,"g":145},{"x":10200,"y":1.85,"g":155},{"x":10320,"y":1.845,"g":155},{"x":10430,"y":1.84,"g":155},{"x":8480,"y":1.81,"g":145},{"x":8600,"y":1.805,"g":155},{"x":8720,"y":1.81,"g":155},{"x":8840,"y":1.815,"g":155},{"x":8960,"y":1.81,"g":155},{"x":9090,"y":1.81,"g":155},{"x":9220,"y":1.82,"g":155},{"x":9350,"y":1.82,"g":155},{"x":9480,"y":1.825,"g":155},{"x":9610,"y":1.82,"g":155},{"x":9740,"y":1.825,"g":155},{"x":9870,"y":1.82,"g":125},{"x":10000,"y":1.83,"g":155},{"x":10130,"y":1.825,"g":125},{"x":10260,"y":1.82,"g":125},{"x":10380,"y":1.815,"g":155},{"x":8720,"y":1.785,"g":145},{"x":8860,"y":1.79,"g":155},{"x":9000,"y":1.79,"g":155},{"x":9130,"y":1.785,"g":155},{"x":9270,"y":1.79,"g":155},{"x":9400,"y":1.795,"g":155},{"x":9530,"y":1.795,"g":155},{"x":9660,"y":1.8,"g":155},{"x":9790,"y":1.795,"g":125},{"x":9910,"y":1.805,"g":125},{"x":10030,"y":1.8,"g":155},{"x":10150,"y":1.795,"g":155},{"x":10290,"y":1.795,"g":155},{"x":10440,"y":1.795,"g":155},{"x":8230,"y":1.83,"g":145},{"x":8140,"y":1.975,"g":155},{"x":8350,"y":2.0,"g":155},{"x":8550,"y":1.94,"g":155},{"x":8850,"y":1.945,"g":155},{"x":9000,"y":1.895,"g":155},{"x":9100,"y":1.835,"g":155},{"x":9450,"y":1.875,"g":145},{"x":9780,"y":1.86,"g":145},{"x":10080,"y":1.835,"g":155},{"x":10210,"y":1.885,"g":155},{"x":10330,"y":1.86,"g":145},{"x":10470,"y":1.82,"g":155},
{"x":7880,"y":1.995,"g":155},{"x":8000,"y":2.0,"g":155},{"x":8090,"y":2.0,"g":155},{"x":8210,"y":1.995,"g":155},{"x":8430,"y":1.975,"g":155},{"x":8550,"y":1.99,"g":145},{"x":7880,"y":1.97,"g":155},{"x":8010,"y":1.96,"g":155},{"x":8130,"y":1.95,"g":155},{"x":8260,"y":1.955,"g":155},{"x":8400,"y":1.95,"g":155},{"x":8520,"y":1.955,"g":155},{"x":8660,"y":1.945,"g":155},{"x":7860,"y":1.94,"g":155},{"x":8040,"y":1.925,"g":155},{"x":8180,"y":1.925,"g":155},{"x":8310,"y":1.93,"g":155},{"x":8430,"y":1.93,"g":155},{"x":8600,"y":1.92,"g":155},{"x":8730,"y":1.92,"g":155},{"x":8900,"y":1.925,"g":155},{"x":7950,"y":1.9,"g":155},{"x":8080,"y":1.905,"g":155},{"x":8210,"y":1.9,"g":155},{"x":8340,"y":1.905,"g":155},{"x":8470,"y":1.905,"g":155},{"x":8620,"y":1.9,"g":155},{"x":8780,"y":1.9,"g":155},{"x":8930,"y":1.905,"g":155},{"x":9100,"y":1.9,"g":155},{"x":9230,"y":1.905,"g":155},{"x":9360,"y":1.91,"g":155},{"x":8030,"y":1.87,"g":155},{"x":8150,"y":1.87,"g":155},{"x":8280,"y":1.875,"g":155},{"x":8410,"y":1.875,"g":155},{"x":8540,"y":1.875,"g":155},{"x":8700,"y":1.87,"g":155},{"x":8850,"y":1.875,"g":155},{"x":8990,"y":1.88,"g":155},{"x":9130,"y":1.875,"g":155},{"x":9240,"y":1.885,"g":155},{"x":9350,"y":1.885,"g":155},{"x":9480,"y":1.885,"g":155},{"x":9610,"y":1.89,"g":155},{"x":9730,"y":1.89,"g":155},{"x":9860,"y":1.89,"g":155},{"x":9980,"y":1.89,"g":155},{"x":10110,"y":1.895,"g":155},{"x":10250,"y":1.895,"g":155},{"x":10380,"y":1.89,"g":155},{"x":8120,"y":1.845,"g":155},{"x":8240,"y":1.85,"g":155},{"x":8360,"y":1.845,"g":155},{"x":8490,"y":1.85,"g":155},{"x":8620,"y":1.84,"g":155},{"x":8760,"y":1.85,"g":155},{"x":8900,"y":1.855,"g":155},{"x":9050,"y":1.85,"g":155},{"x":9190,"y":1.855,"g":155},{"x":9320,"y":1.86,"g":155},{"x":9450,"y":1.86,"g":155},{"x":9580,"y":1.86,"g":155},{"x":9700,"y":1.865,"g":155},{"x":9830,"y":1.865,"g":155},{"x":9950,"y":1.865,"g":155},{"x":10070,"y":1.87,"g":155},{"x":10180,"y":1.865,"g":155},{"x":10300,"y":1.87,"g":155},{"x":10440,"y":1.865,"g":155},{"x":8430,"y":1.82,"g":155},{"x":8560,"y":1.82,"g":155},{"x":8680,"y":1.82,"g":155},{"x":8800,"y":1.83,"g":155},{"x":8920,"y":1.825,"g":155},{"x":9040,"y":1.825,"g":155},{"x":9160,"y":1.825,"g":155},{"x":9290,"y":1.83,"g":155},{"x":9410,"y":1.835,"g":155},{"x":9530,"y":1.835,"g":155},{"x":9650,"y":1.835,"g":155},{"x":9770,"y":1.835,"g":155},{"x":9910,"y":1.835,"g":155},{"x":10040,"y":1.84,"g":155},{"x":10160,"y":1.84,"g":155},{"x":10270,"y":1.835,"g":155},{"x":10390,"y":1.83,"g":155},{"x":8780,"y":1.8,"g":155},{"x":8900,"y":1.8,"g":155},{"x":9030,"y":1.8,"g":155},{"x":9160,"y":1.8,"g":155},{"x":9300,"y":1.805,"g":155},{"x":9430,"y":1.81,"g":155},{"x":9560,"y":1.805,"g":155},{"x":9690,"y":1.81,"g":155},{"x":9810,"y":1.81,"g":155},{"x":9950,"y":1.815,"g":155},{"x":10080,"y":1.81,"g":155},{"x":10200,"y":1.81,"g":155},{"x":10330,"y":1.805,"g":155},{"x":8940,"y":1.78,"g":155},{"x":9200,"y":1.775,"g":155},{"x":9340,"y":1.775,"g":155},{"x":9580,"y":1.78,"g":155},{"x":9720,"y":1.785,"g":155},{"x":9980,"y":1.785,"g":155},{"x":10100,"y":1.78,"g":155},{"x":10230,"y":1.785,"g":155},
{"x":8000,"y":1.946,"g":30},{"x":8310,"y":1.88,"g":105},{"x":8490,"y":1.91,"g":20},{"x":8600,"y":1.9,"g":30},{"x":8880,"y":1.9,"g":30},{"x":8860,"y":1.895,"g":20},{"x":8970,"y":1.84,"g":50},{"x":9830,"y":1.82,"g":125},{"x":9830,"y":1.838,"g":125},{"x":9990,"y":1.82,"g":125},{"x":10260,"y":1.82,"g":125},{"x":9870,"y":1.8,"g":125},{"x":9900,"y":1.783,"g":125},
{"x":9080,"y":2.012,"g":125},{"x":9280,"y":2.005,"g":110},{"x":9560,"y":2.0,"g":110},{"x":9960,"y":1.985,"g":140},{"x":10350,"y":1.985,"g":140},{"x":10730,"y":2.011,"g":25},{"x":10880,"y":2.013,"g":95},{"x":10990,"y":2.03,"g":125},{"x":11000,"y":2.025,"g":110},{"x":9100,"y":1.97,"g":125},{"x":9300,"y":1.973,"g":125},{"x":8840,"y":1.96,"g":60},{"x":9120,"y":1.95,"g":125},{"x":9040,"y":1.945,"g":30},{"x":9060,"y":1.94,"g":30},{"x":8190,"y":1.955,"g":95},{"x":8360,"y":1.915,"g":30},{"x":8470,"y":1.865,"g":105},{"x":10230,"y":1.972,"g":35},{"x":10330,"y":1.956,"g":35},{"x":10760,"y":1.976,"g":60},{"x":10760,"y":1.96,"g":5},{"x":9400,"y":1.942,"g":20},{"x":9560,"y":1.942,"g":20},{"x":9710,"y":1.948,"g":20},{"x":9600,"y":1.925,"g":25},{"x":9390,"y":1.91,"g":20},{"x":10145,"y":1.936,"g":20},{"x":10260,"y":1.949,"g":20},{"x":10320,"y":1.935,"g":20},{"x":10290,"y":1.911,"g":20},{"x":10530,"y":1.919,"g":125},{"x":10680,"y":1.91,"g":125},{"x":10875,"y":1.945,"g":20},{"x":10990,"y":1.928,"g":125},{"x":10710,"y":1.878,"g":20},{"x":10770,"y":1.859,"g":20},{"x":10915,"y":1.861,"g":60},{"x":10810,"y":1.883,"g":125},{"x":9700,"y":1.927,"g":125},{"x":9930,"y":1.928,"g":30},{"x":9970,"y":1.91,"g":20},{"x":10180,"y":1.92,"g":125},{"x":10780,"y":1.835,"g":50},{"x":10620,"y":1.82,"g":30},{"x":10700,"y":1.81,"g":20},{"x":10560,"y":1.79,"g":95},{"x":10480,"y":1.78,"g":30},{"x":10610,"y":1.78,"g":30},{"x":10700,"y":1.785,"g":105},{"x":10850,"y":1.79,"g":95},{"x":10870,"y":1.82,"g":30},{"x":10950,"y":1.81,"g":105},{"x":11000,"y":1.84,"g":20},{"x":10920,"y":1.76,"g":5},{"x":10910,"y":1.75,"g":30},{"x":10700,"y":1.76,"g":25},{"x":10830,"y":1.835,"g":55},
{"x":11980,"y":2.021,"g":5},{"x":13126,"y":2.035,"g":5},{"x":13372,"y":2.023,"g":5},{"x":13425,"y":2.038,"g":5},{"x":13835,"y":2.021,"g":15},{"x":14130,"y":2.027,"g":5},{"x":11130,"y":1.983,"g":50},{"x":11356,"y":1.989,"g":50},{"x":11680,"y":1.997,"g":5},{"x":11692,"y":1.987,"g":30},{"x":11925,"y":1.992,"g":15},{"x":12060,"y":1.994,"g":15},{"x":12274,"y":1.983,"g":5},{"x":12217,"y":1.968,"g":15},{"x":12582,"y":1.98,"g":5},{"x":11282,"y":1.974,"g":30},{"x":11418,"y":1.965,"g":110},{"x":11344,"y":1.959,"g":20},{"x":11580,"y":1.956,"g":5},{"x":11487,"y":1.949,"g":20},{"x":11782,"y":1.972,"g":50},{"x":11877,"y":1.968,"g":15},{"x":11704,"y":1.942,"g":5},{"x":12028,"y":1.946,"g":20},{"x":13233,"y":1.961,"g":15},{"x":14733,"y":1.968,"g":15},{"x":14475,"y":1.946,"g":30},{"x":14950,"y":1.949,"g":45},{"x":14990,"y":1.944,"g":30},{"x":15180,"y":1.938,"g":5},{"x":14012,"y":1.954,"g":50},{"x":13925,"y":1.946,"g":5},{"x":14170,"y":1.933,"g":30},{"x":14090,"y":1.923,"g":95},{"x":14048,"y":1.912,"g":50},{"x":14170,"y":1.899,"g":110},{"x":13577,"y":1.928,"g":50},{"x":13258,"y":1.93,"g":15},{"x":13100,"y":1.922,"g":5},{"x":12950,"y":1.918,"g":50},{"x":13044,"y":1.899,"g":5},{"x":13167,"y":1.899,"g":30},{"x":13528,"y":1.896,"g":5},{"x":12733,"y":1.899,"g":5},{"x":12626,"y":1.896,"g":15},{"x":12294,"y":1.939,"g":5},{"x":12462,"y":1.936,"g":95},{"x":12286,"y":1.934,"g":60},{"x":12376,"y":1.915,"g":50},{"x":12315,"y":1.918,"g":95},{"x":11885,"y":1.919,"g":110},{"x":11782,"y":1.902,"g":95},{"x":11360,"y":1.928,"g":50},{"x":11590,"y":1.918,"g":25},{"x":11651,"y":1.913,"g":20},{"x":11229,"y":1.911,"g":30},{"x":11118,"y":1.892,"g":5},{"x":11323,"y":1.894,"g":5},{"x":11549,"y":1.896,"g":5},{"x":11762,"y":1.886,"g":15},{"x":14450,"y":1.878,"g":50},{"x":14820,"y":1.882,"g":5},{"x":15106,"y":1.877,"g":5},{"x":12512,"y":1.877,"g":5},{"x":12073,"y":1.88,"g":15},{"x":12184,"y":1.87,"g":15},{"x":12266,"y":1.865,"g":75},{"x":12000,"y":1.868,"g":110},{"x":13094,"y":1.873,"g":15},{"x":13311,"y":1.885,"g":50},{"x":13311,"y":1.87,"g":5},{"x":12880,"y":1.859,"g":125},{"x":13032,"y":1.856,"g":50},{"x":13385,"y":1.861,"g":5},{"x":13864,"y":1.864,"g":5},{"x":13954,"y":1.861,"g":5},{"x":13975,"y":1.883,"g":5},{"x":14143,"y":1.866,"g":50},{"x":13733,"y":1.855,"g":110},{"x":14220,"y":1.846,"g":5},{"x":12462,"y":1.849,"g":5},{"x":12757,"y":1.849,"g":95},{"x":12245,"y":1.849,"g":30},{"x":12130,"y":1.841,"g":110},{"x":11835,"y":1.848,"g":75},{"x":12266,"y":1.827,"g":110},{"x":11885,"y":1.828,"g":95},{"x":11560,"y":1.858,"g":140},{"x":11364,"y":1.865,"g":145},{"x":11684,"y":1.858,"g":50},{"x":11208,"y":1.839,"g":150},{"x":11303,"y":1.834,"g":50},{"x":11049,"y":1.828,"g":145},{"x":11467,"y":1.83,"g":125},{"x":11590,"y":1.827,"g":95},{"x":11803,"y":1.823,"g":145},{"x":11692,"y":1.816,"g":110},{"x":12500,"y":1.828,"g":5},{"x":12720,"y":1.834,"g":50},{"x":13167,"y":1.839,"g":5},{"x":13290,"y":1.842,"g":50},{"x":13467,"y":1.841,"g":5},{"x":13385,"y":1.848,"g":50},{"x":13692,"y":1.837,"g":5},{"x":13811,"y":1.832,"g":5},{"x":13905,"y":1.83,"g":125},{"x":13577,"y":1.825,"g":5},{"x":13126,"y":1.825,"g":50},{"x":13385,"y":1.821,"g":30},{"x":13003,"y":1.813,"g":75},{"x":12471,"y":1.808,"g":75},{"x":12061,"y":1.808,"g":75},{"x":12163,"y":1.811,"g":95},{"x":12307,"y":1.813,"g":15},{"x":13885,"y":1.806,"g":110},{"x":13794,"y":1.816,"g":5},{"x":14799,"y":1.825,"g":15},{"x":14864,"y":1.815,"g":95},{"x":14696,"y":1.804,"g":5},{"x":14212,"y":1.804,"g":15},{"x":14089,"y":1.799,"g":5},{"x":14282,"y":1.777,"g":5},{"x":14118,"y":1.783,"g":50},{"x":15413,"y":1.828,"g":5},{"x":15659,"y":1.833,"g":5},{"x":13663,"y":1.788,"g":30},{"x":13565,"y":1.801,"g":110},{"x":13282,"y":1.799,"g":5},{"x":13036,"y":1.799,"g":5},{"x":12606,"y":1.797,"g":110},{"x":13475,"y":1.797,"g":95},{"x":12237,"y":1.795,"g":5},{"x":10934,"y":1.801,"g":110},{"x":11233,"y":1.8,"g":110},{"x":11582,"y":1.802,"g":110},{"x":11131,"y":1.788,"g":75},{"x":11254,"y":1.783,"g":75},{"x":11454,"y":1.779,"g":95},{"x":11672,"y":1.775,"g":20},{"x":11823,"y":1.784,"g":95},{"x":11909,"y":1.783,"g":95},{"x":12102,"y":1.775,"g":95},{"x":12286,"y":1.782,"g":75},{"x":12512,"y":1.777,"g":75},{"x":12778,"y":1.777,"g":30},{"x":12963,"y":1.782,"g":110},{"x":13077,"y":1.779,"g":125},{"x":13311,"y":1.782,"g":110},{"x":13425,"y":1.78,"g":125},{"x":12512,"y":1.763,"g":95},{"x":12921,"y":1.763,"g":75},{"x":13475,"y":1.765,"g":15},{"x":13762,"y":1.766,"g":50},{"x":12040,"y":1.763,"g":110},{"x":12192,"y":1.755,"g":105},{"x":11590,"y":1.766,"g":60},{"x":15347,"y":1.766,"g":110},{"x":14950,"y":1.76,"g":95},{"x":13323,"y":1.755,"g":150},{"x":13680,"y":1.757,"g":30},{"x":13208,"y":1.758,"g":60},
{"x":17300,"y":2.141,"g":5},{"x":14190,"y":2.283,"g":5},{"x":14940,"y":2.21,"g":25},{"x":13520,"y":2.151,"g":5},{"x":14480,"y":2.127,"g":45},{"x":14620,"y":2.118,"g":20},{"x":14930,"y":2.132,"g":30},{"x":13550,"y":2.085,"g":10},{"x":12270,"y":2.062,"g":15},{"x":15810,"y":1.972,"g":5},{"x":16140,"y":1.968,"g":5},{"x":16320,"y":1.935,"g":5},{"x":15290,"y":1.72,"g":55},{"x":15450,"y":1.723,"g":50},{"x":15430,"y":1.713,"g":95},{"x":6430,"y":1.927,"g":30},{"x":6600,"y":1.832,"g":50},{"x":6890,"y":1.825,"g":125},{"x":7160,"y":1.88,"g":125},{"x":7230,"y":1.995,"g":30},{"x":7460,"y":1.793,"g":35},{"x":7610,"y":1.85,"g":140},{"x":7690,"y":1.82,"g":125},{"x":6890,"y":2.282,"g":60},{"x":6750,"y":2.24,"g":60},{"x":9290,"y":2.141,"g":75},{"x":9660,"y":2.164,"g":95},{"x":8800,"y":2.085,"g":110},{"x":9600,"y":2.045,"g":60},{"x":9590,"y":2.052,"g":75},{"x":9780,"y":2.036,"g":60},{"x":10260,"y":2.05,"g":110},{"x":10340,"y":2.035,"g":140},{"x":6660,"y":1.727,"g":125},{"x":7390,"y":1.616,"g":95},{"x":7610,"y":1.572,"g":95},{"x":7610,"y":1.616,"g":95}
]},"mark":{"type":"square","size":100,"stroke":"#262626","strokeWidth":1.5,"opacity":1},"encoding":{"x":{"field":"x","type":"quantitative","scale":{"domain":[4840,18313],"nice":false,"zero":false},"axis":null},"y":{"field":"y","type":"quantitative","scale":{"domain":[1.0766,2.5467],"nice":false,"zero":false},"axis":null},"fill":{"field":"g","type":"quantitative","scale":{"type":"threshold","domain":[0,15,30,45,60,75,90,105,120,135,150],"range":["#c00000","#c82000","#e06000","#f5a500","#ffe000","#d8ff00","#50ff00","#00ff9f","#00d0ff","#0040ff","#b000ff","#c000b8"]},"legend":{"type":"gradient","orient":"none","legendX":1109,"legendY":42,"direction":"vertical","title":null,"gradientLength":686,"gradientThickness":31,"gradientStrokeColor":"#e0a0d0","labelFontSize":22,"labelFont":"Liberation Serif","labelColor":"#222222","labelOffset":10,"encoding":{"labels":{"dy":{"value":{"expr":"(datum.value-150)*0.0867+1.5"}}}}}}}},
{"data":{"values":[{"label":"Non-reservoir","x1":7766,"x2":10987,"y1":2.247,"y2":2.336},{"label":"Reservoir","x1":12917,"x2":15240,"y1":1.275,"y2":1.362},{"label":"AI vs Vp/Vs","x1":10323,"x2":12658,"y1":2.5548,"y2":2.6417},{"label":"Gamma Ray","x1":17391,"x2":19739,"y1":2.491,"y2":2.6437}]},"mark":{"type":"rect","fill":"white","stroke":"#222222","strokeWidth":1.5,"clip":false},"encoding":{"x":{"field":"x1","type":"quantitative","scale":{"domain":[4840,18313],"nice":false,"zero":false},"axis":null},"x2":{"field":"x2"},"y":{"field":"y1","type":"quantitative","scale":{"domain":[1.0766,2.5467],"nice":false,"zero":false},"axis":null},"y2":{"field":"y2"}}},
{"data":{"values":[{"t":"Non-reservoir","x":9376,"y":2.29},{"t":"Reservoir","x":14072,"y":1.3165},{"t":"AI vs Vp/Vs","x":11490,"y":2.598},{"t":"Gamma Ray","x":18560,"y":2.598},{"t":"(gAPI)","x":18560,"y":2.534}]},"mark":{"type":"text","font":"Liberation Serif","fontWeight":"bold","fontSize":28,"color":"#111111","align":"center","baseline":"middle","clip":false},"encoding":{"x":{"field":"x","type":"quantitative","scale":{"domain":[4840,18313],"nice":false,"zero":false},"axis":null},"y":{"field":"y","type":"quantitative","scale":{"domain":[1.0766,2.5467],"nice":false,"zero":false},"axis":null},"text":{"field":"t"}}},
{"data":{"values":[{"t":"Vp/Vs (unitless)","x":4963,"y":2.489}]},"mark":{"type":"text","font":"Liberation Serif","fontWeight":"bold","fontSize":28,"color":"#111111","align":"left","baseline":"middle"},"encoding":{"x":{"field":"x","type":"quantitative","scale":{"domain":[4840,18313],"nice":false,"zero":false},"axis":null},"y":{"field":"y","type":"quantitative","scale":{"domain":[1.0766,2.5467],"nice":false,"zero":false},"axis":null},"text":{"field":"t"}}},
{"data":{"values":[{"t":"AI ((m/s)•(g/cc))","x":18178,"y":1.1077}]},"mark":{"type":"text","font":"Liberation Serif","fontWeight":"bold","fontSize":28,"color":"#111111","align":"right","baseline":"middle"},"encoding":{"x":{"field":"x","type":"quantitative","scale":{"domain":[4840,18313],"nice":false,"zero":false},"axis":null},"y":{"field":"y","type":"quantitative","scale":{"domain":[1.0766,2.5467],"nice":false,"zero":false},"axis":null},"text":{"field":"t"}}}
]}
